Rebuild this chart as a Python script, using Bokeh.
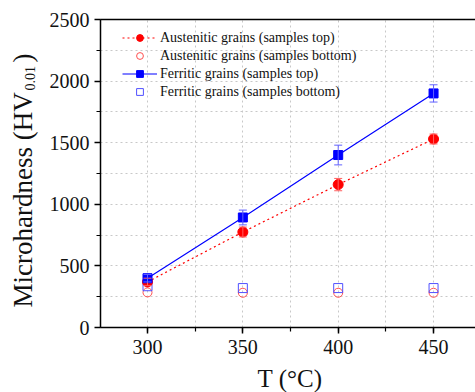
import math
from bokeh.plotting import figure
from bokeh.models import (ColumnDataSource, Whisker, TeeHead, SingleIntervalTicker, FixedTicker,
                          Range1d, Legend, LegendItem, Label, LinearAxis)
from bokeh.embed import file_html
from bokeh.resources import INLINE

T = [300, 350, 400, 450]
aus_top = [370, 775, 1160, 1530]
aus_top_err = [30, 40, 50, 40]
aus_bot = [285, 282, 282, 282]
fer_top = [400, 893, 1400, 1900]
fer_top_err = [30, 60, 80, 70]
fer_bot = [335, 320, 320, 320]

x_label = "T (°C)"
y_label_main = "Microhardness (HV"
y_label_sub = "0.01"
y_label_end = ")"

FONT = "Liberation Serif"
RED = "#ff0000"
BLUE = "#0000ff"
TXT = "#111111"

W, H = 475, 392
# pixel geometry of the plotting area inside the canvas
PX_X300, PX_PER_X = 147.0, 1.907      # screen x of T=300, px per degree
PX_Y0, PX_PER_Y = 327.0, 308.0 / 2500  # screen y of HV=0, px per HV unit

def dx(ix):
    return 300 + (ix - PX_X300) / PX_PER_X

def dy(iy):
    return (PX_Y0 - iy) / PX_PER_Y

XA = dx(100)          # position of left axis
XR = dx(W)            # right edge
YB, YT = 0, 2500      # axis limits

p = figure(width=W, height=H, output_backend="svg", toolbar_location=None,
           x_range=Range1d(dx(0), dx(W)), y_range=Range1d(dy(H), dy(0)),
           min_border=0, min_border_left=0, min_border_right=0,
           min_border_top=0, min_border_bottom=0)
p.outline_line_color = None
p.background_fill_color = "white"

xax, yax = p.xaxis[0], p.yaxis[0]
xax.fixed_location = YB
yax.fixed_location = XA
xax.bounds = (XA, XR)
yax.bounds = (YB, YT)
for ax in (xax, yax):
    ax.axis_line_width = 1.5
    ax.axis_line_color = "black"
    ax.major_tick_line_color = "black"
    ax.minor_tick_line_color = "black"
    ax.major_tick_line_width = 1.5
    ax.minor_tick_line_width = 1.2
    ax.major_tick_out = 6
    ax.major_tick_in = 0
    ax.minor_tick_out = 4
    ax.minor_tick_in = 0
    ax.major_label_text_font = FONT
    ax.major_label_text_font_size = "20px"
    ax.major_label_text_color = TXT
xax.ticker = SingleIntervalTicker(interval=50, num_minor_ticks=2)
yax.ticker = SingleIntervalTicker(interval=500, num_minor_ticks=2)
xax.major_label_standoff = 6
yax.major_label_standoff = 5

top = LinearAxis(fixed_location=YT, bounds=(XA, XR), ticker=FixedTicker(ticks=[]),
                 axis_line_width=1.5, axis_line_color="black")
p.add_layout(top, "above")

p.xgrid[0].ticker = SingleIntervalTicker(interval=25)
p.ygrid[0].ticker = SingleIntervalTicker(interval=250)
p.xgrid[0].bounds = (XA, XR)
p.xgrid[0].cross_bounds = (YB, YT)
p.ygrid[0].bounds = (YB, YT)
p.ygrid[0].cross_bounds = (XA, XR)
for g in (p.xgrid[0], p.ygrid[0]):
    g.grid_line_color = "#c8c8c8"
    g.grid_line_dash = "2 3"
    g.grid_line_width = 1

# axis titles
p.add_layout(Label(x=dx(289.5), y=dy(378), text=x_label, text_font=FONT,
                   text_font_size="25px", text_color=TXT, text_align="center",
                   text_baseline="alphabetic"))
p.add_layout(Label(x=dx(22.5), y=dy(307), text=y_label_main, text_font=FONT,
                   text_font_size="27px", text_color=TXT, angle=math.pi / 2,
                   text_align="left", text_baseline="alphabetic"))
p.add_layout(Label(x=dx(29), y=dy(90), text=y_label_sub, text_font=FONT,
                   text_font_size="14px", text_color=TXT, angle=math.pi / 2,
                   text_align="left", text_baseline="alphabetic"))
p.add_layout(Label(x=dx(22.5), y=dy(62), text=y_label_end, text_font=FONT,
                   text_font_size="27px", text_color=TXT, angle=math.pi / 2,
                   text_align="left", text_baseline="alphabetic"))

src = ColumnDataSource(dict(
    T=T, aus_top=aus_top, aus_bot=aus_bot, fer_top=fer_top, fer_bot=fer_bot,
    aus_lo=[v - e for v, e in zip(aus_top, aus_top_err)],
    aus_hi=[v + e for v, e in zip(aus_top, aus_top_err)],
    fer_lo=[v - e for v, e in zip(fer_top, fer_top_err)],
    fer_hi=[v + e for v, e in zip(fer_top, fer_top_err)],
))

for lo, hi, c in (("aus_lo", "aus_hi", "#ff6060"), ("fer_lo", "fer_hi", "#6060ff")):
    p.add_layout(Whisker(source=src, base="T", lower=lo, upper=hi,
                         line_color=c, line_width=1, level="glyph",
                         upper_head=TeeHead(size=8, line_color=c, line_width=1),
                         lower_head=TeeHead(size=8, line_color=c, line_width=1)))

aus_line = p.line("T", "aus_top", source=src, line_color=RED, line_dash="2 3", line_width=1.2)
fer_line = p.line("T", "fer_top", source=src, line_color=BLUE, line_width=1.2)

aus_bot_r = p.scatter("T", "aus_bot", source=src, marker="circle", size=9,
                      fill_color=None, line_color="#ff5050", line_width=1)
fer_bot_r = p.scatter("T", "fer_bot", source=src, marker="square", size=9,
                      fill_color=None, line_color="#5050ff", line_width=1)
aus_top_r = p.scatter("T", "aus_top", source=src, marker="circle", size=10,
                      fill_color=RED, line_color=RED)
fer_top_r = p.scatter("T", "fer_top", source=src, marker="square", size=9,
                      fill_color=BLUE, line_color=BLUE)

legend = Legend(items=[
    LegendItem(label="Austenitic grains (samples top)", renderers=[aus_line, aus_top_r]),
    LegendItem(label="Austenitic grains (samples bottom)", renderers=[aus_bot_r]),
    LegendItem(label="Ferritic grains (samples top)", renderers=[fer_line, fer_top_r]),
    LegendItem(label="Ferritic grains (samples bottom)", renderers=[fer_bot_r]),
], location=(122, 292))
legend.border_line_color = None
legend.background_fill_alpha = 0
legend.label_text_font = FONT
legend.label_text_font_size = "14px"
legend.label_text_color = TXT
legend.glyph_width = 35
legend.glyph_height = 17
legend.label_height = 17
legend.spacing = 1
legend.padding = 0
legend.margin = 0
legend.label_standoff = 3
p.add_layout(legend)

open("out.html", "w").write(file_html(p, INLINE))
